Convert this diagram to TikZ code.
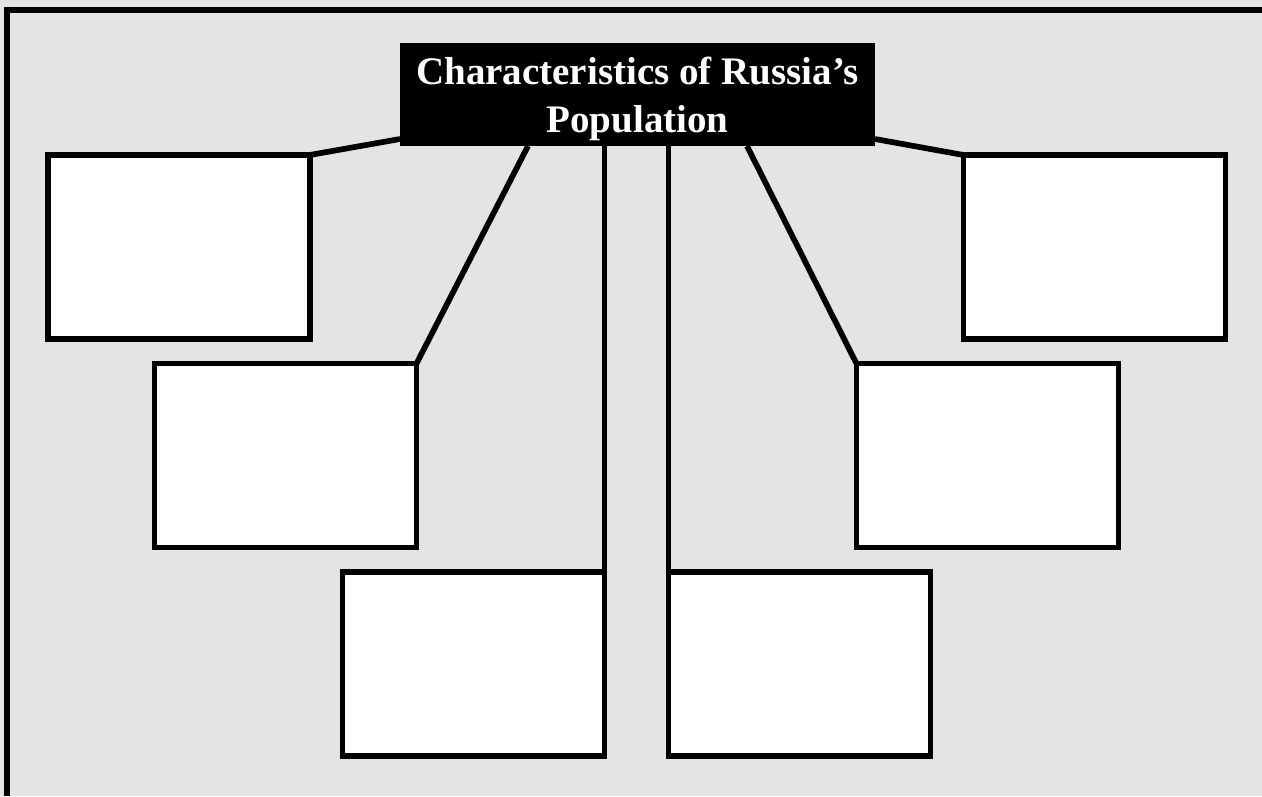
\documentclass[tikz,border=0pt]{standalone}
\usepackage{fontspec}
\setmainfont{Liberation Serif}
\usetikzlibrary{calc}
\definecolor{bggray}{RGB}{228,228,228}
\tikzset{
  blank/.style={draw=black, fill=white, line width=5.7pt, minimum width=262pt, minimum height=184pt, inner sep=0pt, outer sep=0pt},
  titlebox/.style={fill=black, minimum width=475pt, minimum height=103pt, inner sep=0pt, outer sep=0pt},
  titletext/.style={text=white, inner sep=0pt, anchor=base, font=\bfseries\fontsize{39}{47}\selectfont},
  link/.style={line width=5.7pt, draw=black}
}
\begin{document}
\begin{tikzpicture}[x=1pt,y=-1pt]
\useasboundingbox (0,0) rectangle (1262,796);
\fill[bggray] (0,0) rectangle (1262,796);
\draw[line width=5.7pt, miter limit=10] (7,796) -- (7,10) -- (1262,10);
\node[titlebox] (title) at (637.5,94.5) {};
\node[titletext] (t1) at (637.5,84) {Characteristics of Russia’s};
\node[titletext] (t2) at (637.5,132) {Population};
\node[blank] (b1) at (178.75,247) {};
\node[blank] (b2) at (285.5,455.6) {};
\node[blank] (b3) at (473.5,664) {};
\node[blank] (b4) at (799.5,664) {};
\node[blank] (b5) at (987.5,455.6) {};
\node[blank] (b6) at (1094.5,247) {};
\draw[link] (b1.north east) -- ([yshift=7pt]title.south west);
\draw[link] (b2.north east) -- ([xshift=128pt]title.south west);
\draw[link] (b3.north east) -- (b3.north east |- title.south);
\draw[link] (b4.north west) -- (b4.north west |- title.south);
\draw[link] (b5.north west) -- ([xshift=-128pt]title.south east);
\draw[link] (b6.north west) -- ([yshift=7pt]title.south east);
\end{tikzpicture}
\end{document}
